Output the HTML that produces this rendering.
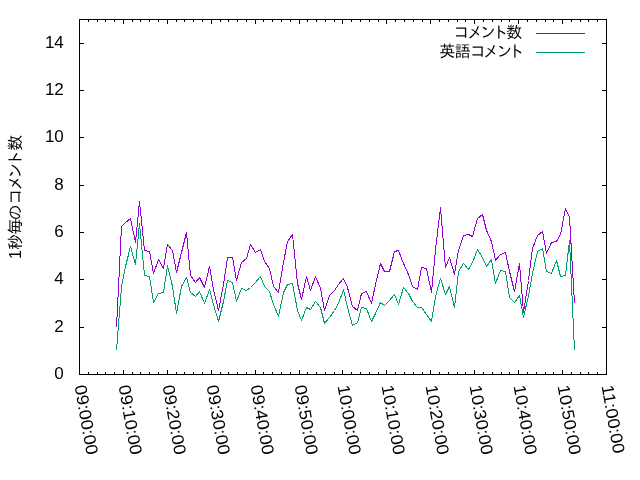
<!DOCTYPE html>
<html lang="ja"><head><meta charset="utf-8"><title>コメント数</title>
<style>
html,body{margin:0;padding:0;background:#fff;}
body{width:640px;height:480px;overflow:hidden;}
svg{display:block;}
text{font-family:"Liberation Sans","IPAGothic",sans-serif;fill:#000;}
.jp{font-family:"Liberation Sans","IPAGothic",sans-serif;font-size:16px;}
.num{font-size:17px;}
</style></head><body>
<svg width="640" height="480" viewBox="0 0 640 480">
<rect x="0" y="0" width="640" height="480" fill="#fff"/>
<polyline points="116.5,327.5 121.5,226.5 125.5,222.5 130.5,218.5 135.5,242.5 139.5,201.5 144.5,250.5 149.5,251.5 153.5,273.5 158.5,259.5 163.5,268.5 167.5,244.5 172.5,250.5 176.5,272.5 181.5,252.5 186.5,232.5 190.5,275.5 195.5,282.5 199.5,277.5 204.5,287.5 209.5,266.5 213.5,289.5 218.5,310.5 223.5,284.5 227.5,257.5 232.5,257.5 236.5,280.5 241.5,262.5 246.5,258.5 250.5,244.5 255.5,252.5 260.5,249.5 264.5,261.5 269.5,268.5 273.5,286.5 278.5,292.5 283.5,262.5 287.5,241.5 292.5,234.5 297.5,283.5 301.5,299.5 306.5,276.5 310.5,290.5 315.5,276.5 320.5,288.5 324.5,310.5 329.5,295.5 334.5,290.5 338.5,284.5 343.5,278.5 347.5,287.5 352.5,306.5 357.5,310.5 361.5,293.5 366.5,291.5 371.5,303.5 375.5,284.5 380.5,263.5 384.5,271.5 389.5,271.5 394.5,251.5 398.5,250.5 403.5,263.5 408.5,274.5 412.5,286.5 417.5,289.5 421.5,267.5 426.5,268.5 431.5,292.5 435.5,249.5 440.5,207.5 445.5,267.5 449.5,257.5 454.5,274.5 458.5,250.5 463.5,235.5 468.5,234.5 472.5,236.5 477.5,218.5 482.5,214.5 486.5,230.5 491.5,241.5 495.5,260.5 500.5,254.5 505.5,252.5 509.5,271.5 514.5,291.5 519.5,263.5 523.5,312.5 528.5,280.5 532.5,248.5 537.5,235.5 542.5,231.5 546.5,253.5 551.5,242.5 556.5,241.5 560.5,234.5 565.5,208.5 569.5,217.5 574.5,303.5" fill="none" stroke="#9400d3" stroke-width="1" stroke-linejoin="bevel" shape-rendering="crispEdges"/>
<polyline points="116.5,350.5 121.5,286.5 125.5,266.5 130.5,246.5 135.5,264.5 139.5,223.5 144.5,275.5 149.5,276.5 153.5,302.5 158.5,293.5 163.5,292.5 167.5,265.5 172.5,286.5 176.5,313.5 181.5,286.5 186.5,277.5 190.5,292.5 195.5,296.5 199.5,291.5 204.5,303.5 209.5,289.5 213.5,304.5 218.5,321.5 223.5,301.5 227.5,280.5 232.5,282.5 236.5,301.5 241.5,288.5 246.5,290.5 250.5,287.5 255.5,282.5 260.5,276.5 264.5,286.5 269.5,291.5 273.5,304.5 278.5,316.5 283.5,292.5 287.5,284.5 292.5,283.5 297.5,310.5 301.5,320.5 306.5,307.5 310.5,309.5 315.5,301.5 320.5,307.5 324.5,323.5 329.5,317.5 334.5,310.5 338.5,303.5 343.5,289.5 347.5,307.5 352.5,325.5 357.5,322.5 361.5,307.5 366.5,308.5 371.5,321.5 375.5,313.5 380.5,302.5 384.5,305.5 389.5,300.5 394.5,294.5 398.5,304.5 403.5,287.5 408.5,293.5 412.5,301.5 417.5,307.5 421.5,307.5 426.5,314.5 431.5,321.5 435.5,296.5 440.5,278.5 445.5,294.5 449.5,286.5 454.5,307.5 458.5,271.5 463.5,263.5 468.5,269.5 472.5,262.5 477.5,249.5 482.5,257.5 486.5,266.5 491.5,259.5 495.5,283.5 500.5,270.5 505.5,271.5 509.5,297.5 514.5,302.5 519.5,295.5 523.5,317.5 528.5,295.5 532.5,273.5 537.5,251.5 542.5,248.5 546.5,271.5 551.5,273.5 556.5,260.5 560.5,276.5 565.5,275.5 569.5,240.5 574.5,350.5" fill="none" stroke="#009e73" stroke-width="1" stroke-linejoin="bevel" shape-rendering="crispEdges"/>
<path d="M79 19h528v1h-528zM79 374h528v1h-528zM79 19h1v356h-1zM606 19h1v356h-1zM88 372h1v2h-1zM88 20h1v2h-1zM97 372h1v2h-1zM97 20h1v2h-1zM105 372h1v2h-1zM105 20h1v2h-1zM114 372h1v2h-1zM114 20h1v2h-1zM123 370h1v4h-1zM123 20h1v4h-1zM132 372h1v2h-1zM132 20h1v2h-1zM140 372h1v2h-1zM140 20h1v2h-1zM149 372h1v2h-1zM149 20h1v2h-1zM158 372h1v2h-1zM158 20h1v2h-1zM167 370h1v4h-1zM167 20h1v4h-1zM176 372h1v2h-1zM176 20h1v2h-1zM184 372h1v2h-1zM184 20h1v2h-1zM193 372h1v2h-1zM193 20h1v2h-1zM202 372h1v2h-1zM202 20h1v2h-1zM211 370h1v4h-1zM211 20h1v4h-1zM220 372h1v2h-1zM220 20h1v2h-1zM228 372h1v2h-1zM228 20h1v2h-1zM237 372h1v2h-1zM237 20h1v2h-1zM246 372h1v2h-1zM246 20h1v2h-1zM255 370h1v4h-1zM255 20h1v4h-1zM263 372h1v2h-1zM263 20h1v2h-1zM272 372h1v2h-1zM272 20h1v2h-1zM281 372h1v2h-1zM281 20h1v2h-1zM290 372h1v2h-1zM290 20h1v2h-1zM299 370h1v4h-1zM299 20h1v4h-1zM307 372h1v2h-1zM307 20h1v2h-1zM316 372h1v2h-1zM316 20h1v2h-1zM325 372h1v2h-1zM325 20h1v2h-1zM334 372h1v2h-1zM334 20h1v2h-1zM342 370h1v4h-1zM342 20h1v4h-1zM351 372h1v2h-1zM351 20h1v2h-1zM360 372h1v2h-1zM360 20h1v2h-1zM369 372h1v2h-1zM369 20h1v2h-1zM378 372h1v2h-1zM378 20h1v2h-1zM386 370h1v4h-1zM386 20h1v4h-1zM395 372h1v2h-1zM395 20h1v2h-1zM404 372h1v2h-1zM404 20h1v2h-1zM413 372h1v2h-1zM413 20h1v2h-1zM422 372h1v2h-1zM422 20h1v2h-1zM430 370h1v4h-1zM430 20h1v4h-1zM439 372h1v2h-1zM439 20h1v2h-1zM448 372h1v2h-1zM448 20h1v2h-1zM457 372h1v2h-1zM457 20h1v2h-1zM465 372h1v2h-1zM465 20h1v2h-1zM474 370h1v4h-1zM474 20h1v4h-1zM483 372h1v2h-1zM483 20h1v2h-1zM492 372h1v2h-1zM492 20h1v2h-1zM501 372h1v2h-1zM501 20h1v2h-1zM509 372h1v2h-1zM509 20h1v2h-1zM518 370h1v4h-1zM518 20h1v4h-1zM527 372h1v2h-1zM527 20h1v2h-1zM536 372h1v2h-1zM536 20h1v2h-1zM545 372h1v2h-1zM545 20h1v2h-1zM553 372h1v2h-1zM553 20h1v2h-1zM562 370h1v4h-1zM562 20h1v4h-1zM571 372h1v2h-1zM571 20h1v2h-1zM580 372h1v2h-1zM580 20h1v2h-1zM588 372h1v2h-1zM588 20h1v2h-1zM597 372h1v2h-1zM597 20h1v2h-1zM80 327h4v1h-4zM602 327h4v1h-4zM80 279h4v1h-4zM602 279h4v1h-4zM80 232h4v1h-4zM602 232h4v1h-4zM80 185h4v1h-4zM602 185h4v1h-4zM80 137h4v1h-4zM602 137h4v1h-4zM80 90h4v1h-4zM602 90h4v1h-4zM80 43h4v1h-4zM602 43h4v1h-4z" fill="#000" stroke="none" shape-rendering="crispEdges"/>
<text class="num" x="63.8" y="379.3" text-anchor="end">0</text>
<text class="num" x="63.8" y="332.3" text-anchor="end">2</text>
<text class="num" x="63.8" y="284.3" text-anchor="end">4</text>
<text class="num" x="63.8" y="237.3" text-anchor="end">6</text>
<text class="num" x="63.8" y="190.3" text-anchor="end">8</text>
<text class="num" x="63.8" y="142.3" text-anchor="end">10</text>
<text class="num" x="63.8" y="95.3" text-anchor="end">12</text>
<text class="num" x="63.8" y="48.3" text-anchor="end">14</text>
<text class="num" transform="translate(74.4,386.0) rotate(80) scale(1.068,1)" x="0" y="0">09:00:00</text>
<text class="num" transform="translate(118.4,386.0) rotate(80) scale(1.068,1)" x="0" y="0">09:10:00</text>
<text class="num" transform="translate(162.4,386.0) rotate(80) scale(1.068,1)" x="0" y="0">09:20:00</text>
<text class="num" transform="translate(206.4,386.0) rotate(80) scale(1.068,1)" x="0" y="0">09:30:00</text>
<text class="num" transform="translate(250.4,386.0) rotate(80) scale(1.068,1)" x="0" y="0">09:40:00</text>
<text class="num" transform="translate(294.4,386.0) rotate(80) scale(1.068,1)" x="0" y="0">09:50:00</text>
<text class="num" transform="translate(337.4,386.0) rotate(80) scale(1.068,1)" x="0" y="0">10:00:00</text>
<text class="num" transform="translate(381.4,386.0) rotate(80) scale(1.068,1)" x="0" y="0">10:10:00</text>
<text class="num" transform="translate(425.4,386.0) rotate(80) scale(1.068,1)" x="0" y="0">10:20:00</text>
<text class="num" transform="translate(469.4,386.0) rotate(80) scale(1.068,1)" x="0" y="0">10:30:00</text>
<text class="num" transform="translate(513.4,386.0) rotate(80) scale(1.068,1)" x="0" y="0">10:40:00</text>
<text class="num" transform="translate(557.4,386.0) rotate(80) scale(1.068,1)" x="0" y="0">10:50:00</text>
<text class="num" transform="translate(601.4,386.0) rotate(80) scale(1.068,1)" x="0" y="0">11:00:00</text>
<text class="jp" transform="translate(21,258.3) rotate(-90)" x="-0.8 8.2 23.8 37.8 53.8 67.3 79.6 92.2 107.5" y="0">1秒毎のコメント数</text>
<text class="jp" x="453.6 466.9 480.1 492.6 506.2" y="37.6">コメント数</text>
<text class="jp" x="439.2 454.8 469.9 483 496.4 508.5" y="56.6">英語コメント</text>
<path d="M536 33.5H585" stroke="#9400d3" stroke-width="1" shape-rendering="crispEdges"/>
<path d="M536 52.5H585" stroke="#009e73" stroke-width="1" shape-rendering="crispEdges"/>
</svg>
</body></html>
